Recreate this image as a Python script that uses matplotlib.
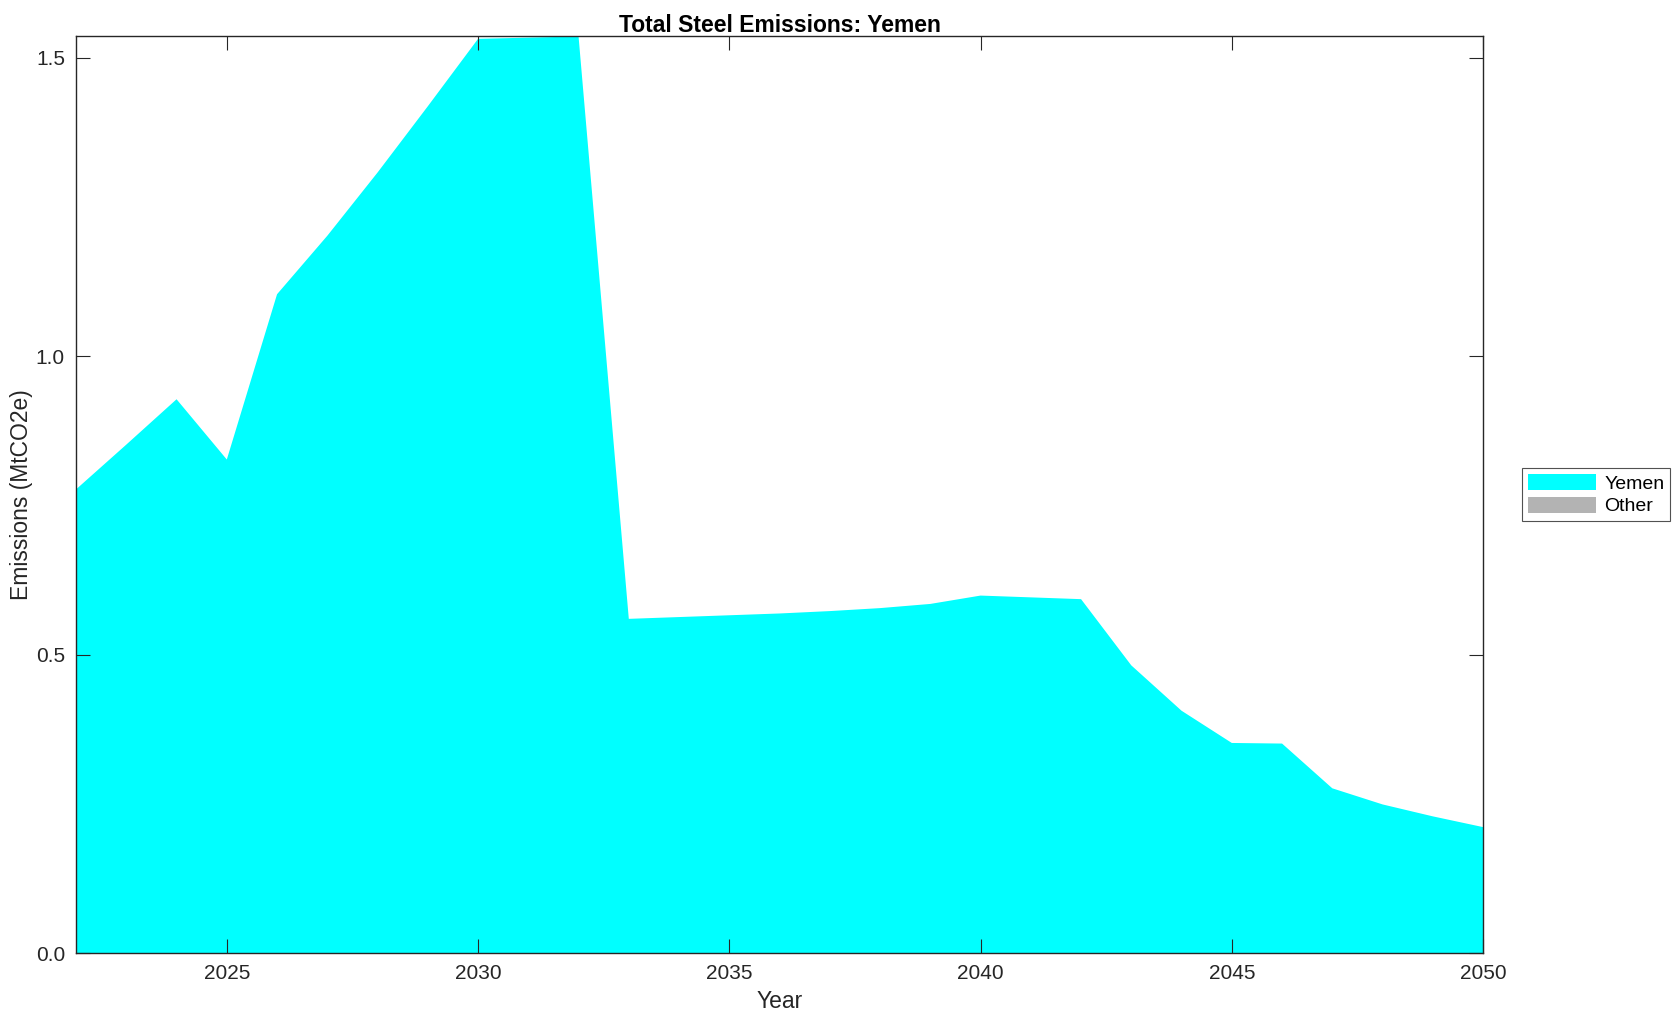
import matplotlib
matplotlib.use("Agg")
import matplotlib.pyplot as plt

plt.rcParams['font.family'] = ['Liberation Sans', 'DejaVu Sans']

years = list(range(2022, 2051))
yemen = [0.777, 0.852, 0.928, 0.827, 1.104, 1.202, 1.308, 1.419, 1.532, 1.534,
         1.536, 0.560, 0.563, 0.566, 0.569, 0.573, 0.578, 0.585, 0.599, 0.596,
         0.593, 0.482, 0.406, 0.352, 0.351, 0.276, 0.249, 0.229, 0.211]
other = [0.0] * len(years)
labels = ['Yemen', 'Other']
colors = ['#00ffff', '#b3b3b3']

fig = plt.figure(figsize=(16.79, 10.21), dpi=100)
ax = fig.add_axes([0.0453, 0.0666, 0.838, 0.8977])

ax.stackplot(years, yemen, other, labels=labels, colors=colors, linewidth=0)

ax.set_xlim(2022, 2050)
ax.set_ylim(0, max(yemen))
ax.set_xticks([2025, 2030, 2035, 2040, 2045, 2050])
ax.set_yticks([0.0, 0.5, 1.0, 1.5])
ax.set_yticklabels(['0.0', '0.5', '1.0', '1.5'])
ax.tick_params(direction='in', length=10, width=0.8, top=True, right=True,
               labelsize=15, colors='#262626', labelcolor='#262626', pad=8)
for s in ax.spines.values():
    s.set_color('#262626')
    s.set_linewidth(1.0)

ax.set_title('Total Steel Emissions: Yemen', fontsize=16.5, fontweight='bold', pad=3)
ax.set_xlabel('Year', fontsize=16.5, color='#262626', labelpad=5)
ax.set_ylabel('Emissions (MtCO2e)', fontsize=16.5, color='#262626', labelpad=2)

leg = ax.legend(loc='center left', bbox_to_anchor=(1.028, 0.5), fontsize=14,
                frameon=True, fancybox=False, edgecolor='#262626',
                handlelength=3.5, handleheight=0.9, borderpad=0.3,
                labelspacing=0.2, handletextpad=0.4, borderaxespad=0)
leg.get_frame().set_linewidth(0.8)

fig.savefig('out.png', dpi=100)
